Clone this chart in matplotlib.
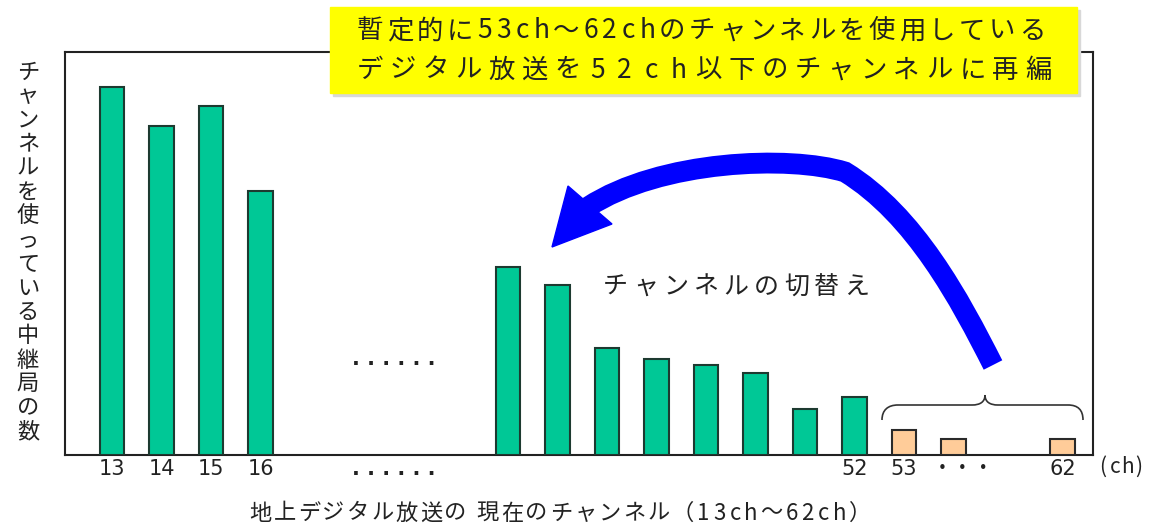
import matplotlib
matplotlib.use("Agg")
import matplotlib.pyplot as plt
from matplotlib.path import Path
from matplotlib.patches import PathPatch, Rectangle, Polygon

plt.rcParams['font.family'] = ['Noto Sans CJK JP', 'DejaVu Sans']

# ---- data ----
green_values = [92, 82.25, 87.25, 66, 47, 42.5, 26.75, 24, 22.5, 20.5, 11.5, 14.5]
orange_values = [6.25, 4, 4]
tick_labels = ["13", "14", "15", "16", ". . . . . .", "52", "53", "・・・", "62"]
ylabel_text = "チャンネルを使っている中継局の数"
xlabel_text = "地上デジタル放送の 現在のチャンネル（13ch〜62ch）"
title_lines = ["暫定的に53ch〜62chのチャンネルを使用している",
               "デジタル放送を52ch以下のチャンネルに再編"]
arrow_text = "チャンネルの切替え"
unit_text = "(ch)"

# ---- layout (slot positions) ----
green_slots = [0, 1, 2, 3, 8, 9, 10, 11, 12, 13, 14, 15]
orange_slots = [16, 17, 19.2]
tick_slots = [0, 1, 2, 3, 5.7, 15, 16, 17.2, 19.2]

W, H = 1152, 530
fig = plt.figure(figsize=(W / 100, H / 100), dpi=100)
ax = fig.add_axes([65 / W, (H - 455) / H, (1093 - 65) / W, (455 - 52) / H])

ax.bar(green_slots, green_values, width=0.5, color="#00C896",
       edgecolor="#1d3a30", linewidth=1.5, zorder=3)
ax.bar(orange_slots, orange_values, width=0.5, color="#FFCC99",
       edgecolor="#2a2a2a", linewidth=1.5, zorder=3)
ax.set_xlim(-0.95, 19.82)
ax.set_ylim(0, 100.75)
ax.set_yticks([])
ax.set_xticks(tick_slots)
ax.set_xticklabels(tick_labels, fontsize=15, color="#222222",
                   family=['DejaVu Sans', 'Noto Sans CJK JP'])
for lbl in ax.get_xticklabels():
    if lbl.get_text().startswith("."):
        lbl.set_fontweight("bold")
ax.tick_params(axis="x", length=0, pad=3)
for s in ax.spines.values():
    s.set_linewidth(1.5)
    s.set_color("#222222")
# dotted gap marker inside plot
ax.text(5.7, 24, ". . . . . .", ha="center", va="center", fontsize=15,
        fontweight="bold", color="#222222", family='DejaVu Sans')

# ---- overlay in pixel coordinates for annotations ----
ov = fig.add_axes([0, 0, 1, 1], zorder=5)
ov.set_xlim(0, W)
ov.set_ylim(H, 0)
ov.axis("off")
ov.patch.set_visible(False)


def mono_text(x0, y, s, full, half, fontsize, gap=None):
    """Place characters one by one on a fixed-pitch grid (MS Gothic-like)."""
    x = x0
    for ch in s:
        if ch == " ":
            x += gap if gap is not None else half
            continue
        adv = full if ord(ch) > 255 else half
        ov.text(x + adv / 2, y, ch, ha="center", va="center",
                fontsize=fontsize, color="#222222", zorder=3)
        x += adv


# title box
ov.add_patch(Rectangle((333, 10), 747, 86, color="#d8d8d8", zorder=1))
ov.add_patch(Rectangle((330, 7), 747, 86, color="#FFFF00", zorder=2))
mono_text(355, 31, title_lines[0], 30, 19, 19)
mono_text(353, 70, title_lines[1], 33, 27, 19)

# y label (vertical, upright characters)
for i, ch in enumerate(ylabel_text):
    ov.text(28, 72 + 24 * i, ch, ha="center", va="center", fontsize=16, color="#222222")

# x label
mono_text(248, 513, xlabel_text, 24.4, 16, 16, gap=8)
mono_text(1097, 467, unit_text, 24, 12, 15)

# switching text
mono_text(600, 287, arrow_text, 30.2, 15, 18)

# brace
bv = [(882, 420), (882, 410), (888, 405), (898, 405), (972, 405),
      (980, 405), (985, 402), (985, 395), (985, 402), (990, 405), (998, 405),
      (1068, 405), (1078, 405), (1083, 410), (1083, 420)]
bc = [Path.MOVETO, Path.CURVE4, Path.CURVE4, Path.CURVE4, Path.LINETO,
      Path.CURVE4, Path.CURVE4, Path.CURVE4, Path.CURVE4, Path.CURVE4, Path.CURVE4,
      Path.LINETO, Path.CURVE4, Path.CURVE4, Path.CURVE4]
ov.add_patch(PathPatch(Path(bv, bc), fill=False, lw=1.2, edgecolor="#333333"))

# blue curved arrow
av = [(993, 365), (960, 300), (915, 215), (845, 172),
      (790, 155), (660, 160), (588, 207)]
ac = [Path.MOVETO, Path.CURVE4, Path.CURVE4, Path.CURVE4,
      Path.CURVE4, Path.CURVE4, Path.CURVE4]
ov.add_patch(PathPatch(Path(av, ac), fill=False, lw=15, edgecolor="#0000FF",
                       capstyle="butt"))
ov.add_patch(Polygon([(552, 247), (568, 186), (612, 224)], closed=True,
                     color="#0000FF"))

fig.savefig("out.png", dpi=100, facecolor="white")
